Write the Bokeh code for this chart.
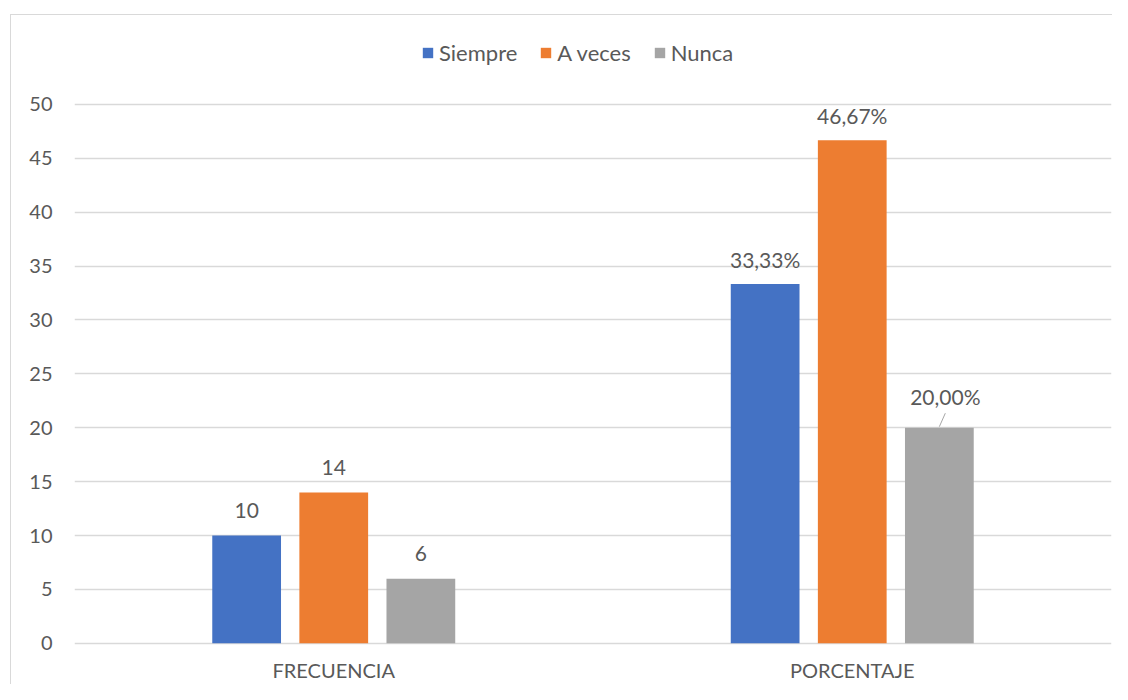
from bokeh.plotting import figure
from bokeh.models import (ColumnDataSource, FactorRange, Range1d, FixedTicker,
                          Legend, LegendItem, InlineStyleSheet)
from bokeh.transform import dodge
from bokeh.core.properties import value
from bokeh.embed import file_html
from bokeh.resources import INLINE

categories = ["FRECUENCIA", "PORCENTAJE"]
series = ["Siempre", "A veces", "Nunca"]
siempre = [10, 33.33]
a_veces = [14, 46.67]
nunca = [6, 20.00]
labels_siempre = ["10", "33,33%"]
labels_a_veces = ["14", "46,67%"]
labels_nunca = ["6", "20,00%"]
y_ticks = [0, 5, 10, 15, 20, 25, 30, 35, 40, 45, 50]
colors = ["#4472C4", "#ED7D31", "#A5A5A5"]

FONT = "Lato"
TXT = "#595959"
GRID = "#D9D9D9"

# frame extends to the top so the legend sits inside it
p = figure(x_range=FactorRange(*categories, range_padding=0, factor_padding=0),
           y_range=Range1d(-0.2, 56.85),
           width=1112, height=684, output_backend="svg", toolbar_location=None,
           min_border_left=74, min_border_right=1, min_border_top=30, min_border_bottom=38)
p.outline_line_color = None
p.background_fill_color = "white"
p.border_fill_color = "white"
p.stylesheets = [InlineStyleSheet(css=(
    ":host::before{content:'';position:absolute;left:10px;top:14px;bottom:0;width:0;z-index:5;"
    "border-left:1px solid #D9D9D9;pointer-events:none;}"
    ":host::after{content:'';position:absolute;left:10px;top:14px;right:0;height:0;z-index:5;"
    "border-top:1px solid #D9D9D9;pointer-events:none;}"))]

src = ColumnDataSource(dict(cat=categories, s=siempre, a=a_veces, n=nunca,
                            ls=labels_siempre, la=labels_a_veces, ln=labels_nunca))

offset = 0.168
bw = 0.1326
offsets = [-offset, 0.0, offset]
fields = ["s", "a", "n"]
lfields = ["ls", "la", "ln"]
renderers = []
for f, off, col in zip(fields, offsets, colors):
    r = p.vbar(x=dodge("cat", off, range=p.x_range), top=f, width=bw, source=src,
               fill_color=col, line_color=None)
    renderers.append(r)

LBL = "21px"
for f, lf, off in zip(fields[:2], lfields[:2], offsets[:2]):
    p.text(x=dodge("cat", off, range=p.x_range), y=f, text=lf, source=src,
           y_offset=-25, text_align="center", text_baseline="middle",
           text_font=value(FONT), text_font_size=LBL, text_color=TXT)

# Nunca: first label normal, second one lifted with a leader line
src_n1 = ColumnDataSource(dict(cat=[categories[0]], n=[nunca[0]], ln=[labels_nunca[0]]))
p.text(x=dodge("cat", offset, range=p.x_range), y="n", text="ln", source=src_n1,
       y_offset=-25, text_align="center", text_baseline="middle",
       text_font=value(FONT), text_font_size=LBL, text_color=TXT)
lead_dx = 0.0115
src_n2 = ColumnDataSource(dict(cat=[categories[1]], n=[nunca[1]], ln=[labels_nunca[1]],
                               y0=[nunca[1] + 0.1], y1=[nunca[1] + 1.35]))
p.text(x=dodge("cat", offset + lead_dx, range=p.x_range), y="n", text="ln", source=src_n2,
       y_offset=-31, text_align="center", text_baseline="middle",
       text_font=value(FONT), text_font_size=LBL, text_color=TXT)
p.segment(x0=dodge("cat", offset, range=p.x_range), y0="y0",
          x1=dodge("cat", offset + lead_dx, range=p.x_range), y1="y1",
          source=src_n2, line_color="#A6A6A6", line_width=1)

# axes
for ax in (p.yaxis[0], p.xaxis[0]):
    ax.axis_line_color = None
    ax.major_tick_line_color = None
    ax.minor_tick_line_color = None
    ax.major_tick_out = 0
    ax.major_tick_in = 0
    ax.minor_tick_out = 0
    ax.minor_tick_in = 0
    ax.major_label_text_font = FONT
    ax.major_label_text_font_size = "20px"
    ax.major_label_text_color = TXT

p.yaxis.ticker = FixedTicker(ticks=y_ticks)
p.yaxis.major_label_standoff = 22
p.xaxis.major_label_standoff = 12

p.xgrid.grid_line_color = None
p.ygrid.grid_line_color = GRID
p.ygrid.grid_line_width = 1.5

legend = Legend(items=[LegendItem(label=s, renderers=[r]) for s, r in zip(series, renderers)],
                orientation="horizontal", location=(347, 579),
                glyph_width=13, glyph_height=13, label_standoff=5, spacing=22,
                label_text_font=FONT, label_text_font_size="22px", label_text_color=TXT,
                label_height=22, padding=0, margin=0,
                border_line_color=None, background_fill_alpha=0)
p.add_layout(legend, "center")

out = open("out.html", "w")
out.write(file_html(p, INLINE))
out.close()
